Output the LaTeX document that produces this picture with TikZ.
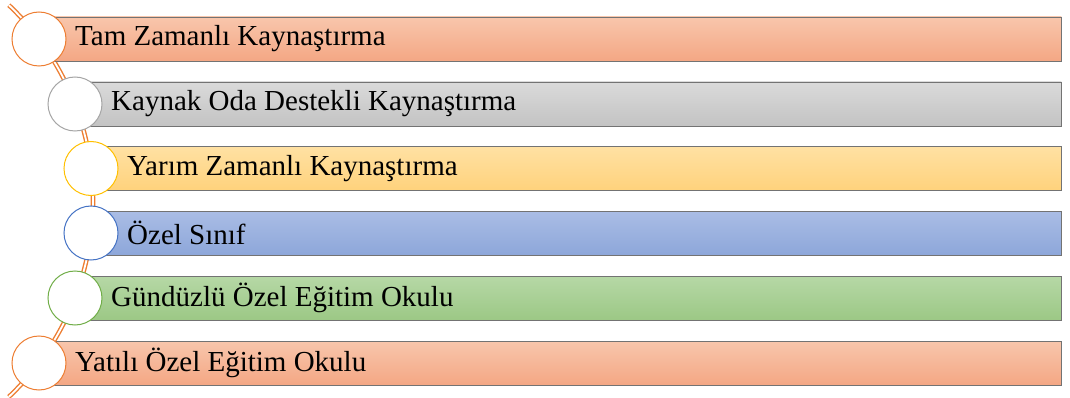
\documentclass[tikz,border=0pt]{standalone}
\usepackage{fontspec}
\setmainfont{Liberation Serif}
\newfontfamily\barfont{Liberation Serif}
\definecolor{orT}{HTML}{F8C6AC}\definecolor{orB}{HTML}{F4A784}
\definecolor{grT}{HTML}{DADADA}\definecolor{grB}{HTML}{C3C3C3}
\definecolor{yeT}{HTML}{FFE1A3}\definecolor{yeB}{HTML}{FFD27C}
\definecolor{blT}{HTML}{AABDE5}\definecolor{blB}{HTML}{8DA7DA}
\definecolor{gnT}{HTML}{B6D8A6}\definecolor{gnB}{HTML}{9CC885}
\definecolor{acOr}{HTML}{ED7D31}\definecolor{acGr}{HTML}{A5A5A5}
\definecolor{acYe}{HTML}{FFC000}\definecolor{acBl}{HTML}{4472C4}
\definecolor{acGn}{HTML}{70AD47}
\tikzset{
  barbox/.style={draw=black!55, line width=0.9pt, rectangle, inner sep=0pt, minimum height=44pt, anchor=west},
  ringnode/.style={circle, fill=white, line width=1pt, inner sep=0pt, minimum size=54pt},
  rowtext/.style={anchor=west, inner sep=0pt, font=\barfont\fontsize{29}{34}\selectfont, text=black},
  rail/.style={draw=acOr, line width=1.4pt, double=white, double distance=1.8pt}
}
\begin{document}
\begin{tikzpicture}[x=1pt,y=-1pt]
\useasboundingbox (0,0) rectangle (1070,398);
\coordinate (railc) at (-177,201);
\draw[rail] (railc) ++(-46.5:270) coordinate (railtop) arc[start angle=-46.5, end angle=46.5, radius=270] coordinate (railbot);
\foreach \n/\cx/\cy/\ct/\cb/\ac/\txt in {
  1/39/39/orT/orB/acOr/{Tam Zamanlı Kaynaştırma},
  2/75/104/grT/grB/acGr/{Kaynak Oda Destekli Kaynaştırma},
  3/91/168.5/yeT/yeB/acYe/{Yarım Zamanlı Kaynaştırma},
  4/91/233/blT/blB/acBl/{Özel Sınıf},
  5/75/298/gnT/gnB/acGn/{Gündüzlü Özel Eğitim Okulu},
  6/39/363/orT/orB/acOr/{Yatılı Özel Eğitim Okulu}}{
  \pgfmathsetmacro{\bw}{1061-\cx}
  \node[barbox, top color=\ct, bottom color=\cb, minimum width=\bw pt] (b\n) at (\cx,\cy) {};
  \node[ringnode, draw=\ac] (c\n) at (\cx,\cy) {};
  \node[rowtext] (t\n) at (\cx+36,\cy) {\txt};
}
\end{tikzpicture}
\end{document}
